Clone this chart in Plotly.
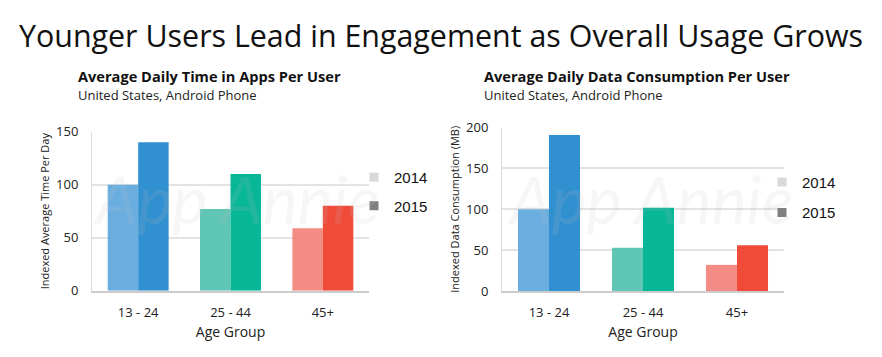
import plotly.graph_objects as go

# ---------------- data ----------------
categories = ["13 - 24", "25 - 44", "45+"]
years = ["2014", "2015"]
time_2014 = [100, 77, 59]
time_2015 = [140, 110, 80]
data_2014 = [100, 53, 32]
data_2015 = [191, 102, 56]
time_ticks = [0, 50, 100, 150]
data_ticks = [0, 50, 100, 150, 200]

colors_2014 = ["#6aaee0", "#5fc5b4", "#f48c86"]
colors_2015 = ["#3190cf", "#08b698", "#f04b39"]
legend_colors = ["#d9d9d9", "#808080"]

# the page adds an 8px body margin around the figure
OFF = 8
W, H = 882 - 2 * OFF, 357 - 2 * OFF
FONT = "Open Sans"


def fx(p):
    return (p - OFF) / W


def fy(p):
    return 1 - (p - OFF) / H


fig = go.Figure()

fig.add_trace(go.Bar(x=categories, y=time_2014, marker=dict(color=colors_2014, line=dict(width=0)),
                     name="2014", showlegend=False, xaxis="x", yaxis="y", hoverinfo="x+y"))
fig.add_trace(go.Bar(x=categories, y=time_2015, marker=dict(color=colors_2015, line=dict(width=0)),
                     name="2015", showlegend=False, xaxis="x", yaxis="y", hoverinfo="x+y"))
fig.add_trace(go.Bar(x=categories, y=data_2014, marker=dict(color=colors_2014, line=dict(width=0)),
                     name="2014", showlegend=False, xaxis="x2", yaxis="y2", hoverinfo="x+y"))
fig.add_trace(go.Bar(x=categories, y=data_2015, marker=dict(color=colors_2015, line=dict(width=0)),
                     name="2015", showlegend=False, xaxis="x2", yaxis="y2", hoverinfo="x+y"))

for i, (yr, col) in enumerate(zip(years, legend_colors)):
    fig.add_trace(go.Scatter(x=[None], y=[None], mode="markers", name=yr,
                             marker=dict(symbol="square", size=9, color=col),
                             legend="legend", legendgroup="L" + yr, xaxis="x", yaxis="y"))
    fig.add_trace(go.Scatter(x=[None], y=[None], mode="markers", name=yr,
                             marker=dict(symbol="square", size=9, color=col),
                             legend="legend2", legendgroup="R" + yr, xaxis="x2", yaxis="y2"))

axis_common = dict(showline=True, linecolor="#cccccc", linewidth=1.5, ticks="outside", ticklen=9,
                   tickcolor="rgba(0,0,0,0)", showgrid=False,
                   tickfont=dict(family=FONT, size=13, color="#222222"), fixedrange=True)
yaxis_common = dict(showline=True, linecolor="#dddddd", linewidth=1, showgrid=True, gridcolor="#e3e3e3",
                    gridwidth=1.5, zeroline=False, ticks="outside", ticklen=10, tickcolor="rgba(0,0,0,0)",
                    tickfont=dict(family=FONT, size=13, color="#222222"), fixedrange=True)

fig.update_layout(
    width=W, height=H,
    margin=dict(l=0, r=0, t=0, b=0),
    paper_bgcolor="white", plot_bgcolor="white",
    barmode="group", bargap=0.34, bargroupgap=0,
    font=dict(family=FONT, color="#222222"),
    xaxis=dict(domain=[fx(92), fx(369)], anchor="y",
               title=dict(text="Age Group", font=dict(family=FONT, size=14), standoff=7),
               **axis_common),
    yaxis=dict(domain=[fy(297), fy(129)], anchor="x", range=[0, 150], tickvals=time_ticks,
               title=dict(text="Indexed Average Time Per Day", font=dict(family=FONT, size=11), standoff=4),
               **yaxis_common),
    xaxis2=dict(domain=[fx(502), fx(784)], anchor="y2",
                title=dict(text="Age Group", font=dict(family=FONT, size=14), standoff=7),
                **axis_common),
    yaxis2=dict(domain=[fy(297.3), fy(124.7)], anchor="x2", range=[0, 200], tickvals=data_ticks,
                title=dict(text="Indexed Data Consumption (MB)", font=dict(family=FONT, size=11), standoff=4),
                **yaxis_common),
    legend=dict(x=fx(354), y=fy(160), xanchor="left", yanchor="top", bgcolor="rgba(0,0,0,0)",
                font=dict(family="Liberation Sans", size=15, color="#111111"), tracegroupgap=6,
                itemclick=False, itemdoubleclick=False),
    legend2=dict(x=fx(762), y=fy(165), xanchor="left", yanchor="top", bgcolor="rgba(0,0,0,0)",
                 font=dict(family="Liberation Sans", size=15, color="#111111"), tracegroupgap=8,
                 itemclick=False, itemdoubleclick=False),
    annotations=[
        dict(text="Younger Users Lead in Engagement as Overall Usage Grows", x=fx(441), y=fy(28),
             xref="paper", yref="paper", xanchor="center", yanchor="middle", showarrow=False,
             font=dict(family=FONT, size=30.4, color="#111111")),
        dict(text="<b>Average Daily Time in Apps Per User</b>", x=fx(76), y=fy(70),
             xref="paper", yref="paper", xanchor="left", yanchor="middle", showarrow=False,
             font=dict(family=FONT, size=14.6, color="#111111")),
        dict(text="United States, Android Phone", x=fx(76), y=fy(90),
             xref="paper", yref="paper", xanchor="left", yanchor="middle", showarrow=False,
             font=dict(family=FONT, size=13, color="#222222")),
        dict(text="<b>Average Daily Data Consumption Per User</b>", x=fx(482), y=fy(70),
             xref="paper", yref="paper", xanchor="left", yanchor="middle", showarrow=False,
             font=dict(family=FONT, size=14.6, color="#111111")),
        dict(text="United States, Android Phone", x=fx(482), y=fy(90),
             xref="paper", yref="paper", xanchor="left", yanchor="middle", showarrow=False,
             font=dict(family=FONT, size=13, color="#222222")),
        dict(text="<i>App Annie</i>", x=fx(236), y=fy(200), xref="paper", yref="paper",
             xanchor="center", yanchor="middle", showarrow=False,
             font=dict(family="Lato", size=66, color="rgba(190,190,200,0.14)")),
        dict(text="<i>App Annie</i>", x=fx(650), y=fy(200), xref="paper", yref="paper",
             xanchor="center", yanchor="middle", showarrow=False,
             font=dict(family="Lato", size=66, color="rgba(190,190,200,0.14)")),
    ],
)

fig.write_html("out.html")
